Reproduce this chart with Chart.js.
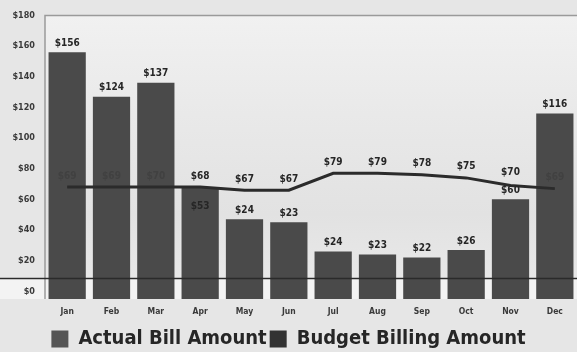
<!DOCTYPE html>
<html>
<head>
<meta charset="utf-8">
<script src="https://cdn.jsdelivr.net/npm/chart.js@4.4.1/dist/chart.umd.min.js"></script>
<style>
  html, body { margin: 0; padding: 0; background: #e6e6e6; }
  #wrap { width: 577px; height: 352px; position: relative; }
</style>
</head>
<body>
<div id="wrap"><canvas id="c" width="577" height="352"></canvas></div>
<script>
// ---- data ----
const months = ["Jan","Feb","Mar","Apr","May","Jun","Jul","Aug","Sep","Oct","Nov","Dec"];
const actualBill = [156, 127, 136, 68, 47, 45, 26, 24, 22, 27, 60, 116];
const actualLabels = ["$156","$124","$137","$53","$24","$23","$24","$23","$22","$26","$60","$116"];
const budgetBill = [68, 68, 68, 68, 66, 66, 77, 77, 76, 74, 69, 67];
const budgetLabels = ["$69","$69","$70","$68","$67","$67","$79","$79","$78","$75","$70","$69"];
const yTicks = [0, 20, 40, 60, 80, 100, 120, 140, 160, 180];

const FONT = "'DejaVu Sans Condensed', 'Liberation Sans Narrow', sans-serif";

const bgPlugin = {
  id: 'bg',
  beforeDraw(chart) {
    const {ctx, chartArea: a, scales: {y}} = chart;
    ctx.save();
    ctx.fillStyle = '#e6e6e6';
    ctx.fillRect(0, 0, chart.width, chart.height);
    const g = ctx.createLinearGradient(0, a.top, 0, a.bottom);
    g.addColorStop(0, '#f1f1f1');
    g.addColorStop(0.35, '#e9e9e9');
    g.addColorStop(0.7, '#e2e2e2');
    g.addColorStop(1, '#eaeaea');
    ctx.fillStyle = g;
    ctx.fillRect(a.left, a.top, a.right - a.left, a.bottom - a.top);
    const yl = y.getPixelForValue(9);
    ctx.fillStyle = '#f3f3f3';
    ctx.fillRect(0, yl, chart.width, a.bottom - yl);
    ctx.restore();
  },
  afterDatasetsDraw(chart) {
    const {ctx, chartArea: a, scales: {y}} = chart;
    ctx.save();
    ctx.strokeStyle = '#9a9a9a';
    ctx.lineWidth = 1.5;
    ctx.beginPath();
    ctx.moveTo(a.left, a.bottom);
    ctx.lineTo(a.left, a.top);
    ctx.lineTo(a.right, a.top);
    ctx.stroke();
    const yl = Math.round(y.getPixelForValue(9)) + 0.5;
    ctx.strokeStyle = '#2a2a2a';
    ctx.lineWidth = 1.5;
    ctx.beginPath();
    ctx.moveTo(0, yl);
    ctx.lineTo(chart.width, yl);
    ctx.stroke();

    const barMeta = chart.getDatasetMeta(0);
    const lineMeta = chart.getDatasetMeta(1);
    ctx.font = "bold 10px " + FONT;
    ctx.textAlign = 'center';
    ctx.textBaseline = 'middle';
    barMeta.data.forEach((bar, i) => {
      const lp = lineMeta.data[i];
      ctx.fillStyle = '#262626';
      let ty = bar.y - 9;
      if (Math.abs(bar.y - lp.y) < 12) ty = bar.y + 19;
      ctx.fillText(actualLabels[i], bar.x, ty);
      const onBar = bar.y < lp.y - 16;
      ctx.fillStyle = onBar ? '#414141' : '#262626';
      ctx.fillText(budgetLabels[i], lp.x, lp.y - 11 - (i === 10 ? 2 : 0));
    });
    ctx.restore();
  }
};

new Chart(document.getElementById('c'), {
  data: {
    labels: months,
    datasets: [
      {
        type: 'bar',
        label: 'Actual Bill Amount',
        data: actualBill,
        base: -5,
        backgroundColor: '#4a4a4a',
        borderWidth: 0,
        barPercentage: 0.84,
        categoryPercentage: 1.0,
        order: 2
      },
      {
        type: 'line',
        label: 'Budget Billing Amount',
        data: budgetBill,
        borderColor: '#2b2b2b',
        backgroundColor: '#303030',
        borderWidth: 3,
        pointRadius: 0,
        tension: 0,
        fill: false,
        order: 1
      }
    ]
  },
  options: {
    responsive: false,
    animation: false,
    devicePixelRatio: 1,
    layout: { padding: { top: 14, right: 0, left: 0, bottom: -7 } },
    plugins: {
      tooltip: { enabled: false },
      legend: {
        position: 'bottom',
        labels: {
          font: { family: FONT, size: 20, weight: 'bold', lineHeight: 1 },
          color: '#262626',
          boxWidth: 17,
          boxHeight: 17,
          padding: 3,
          generateLabels(chart) {
            return chart.data.datasets.map((d, i) => ({
              text: d.label,
              fillStyle: i === 0 ? '#555555' : '#333333',
              strokeStyle: 'transparent',
              lineWidth: 0,
              fontColor: '#262626',
              datasetIndex: i,
              hidden: false
            }));
          }
        }
      }
    },
    scales: {
      x: {
        grid: { display: false, drawTicks: false, tickLength: 0 },
        border: { display: false },
        ticks: {
          font: { family: FONT, size: 8.5, weight: 'bold' },
          color: '#3a3a3a',
          padding: 8,
          maxRotation: 0
        },
        afterFit(s) { s.height = 27; }
      },
      y: {
        min: -5,
        max: 180,
        grid: { display: false, drawTicks: false, tickLength: 0 },
        border: { display: false },
        afterBuildTicks(s) { s.ticks = yTicks.map(v => ({ value: v })); },
        ticks: {
          font: { family: FONT, size: 9, weight: 'bold' },
          color: '#3a3a3a',
          padding: 10,
          callback: v => '$' + v
        },
        afterFit(s) { s.width = 45; }
      }
    }
  },
  plugins: [bgPlugin]
});
</script>
</body>
</html>
